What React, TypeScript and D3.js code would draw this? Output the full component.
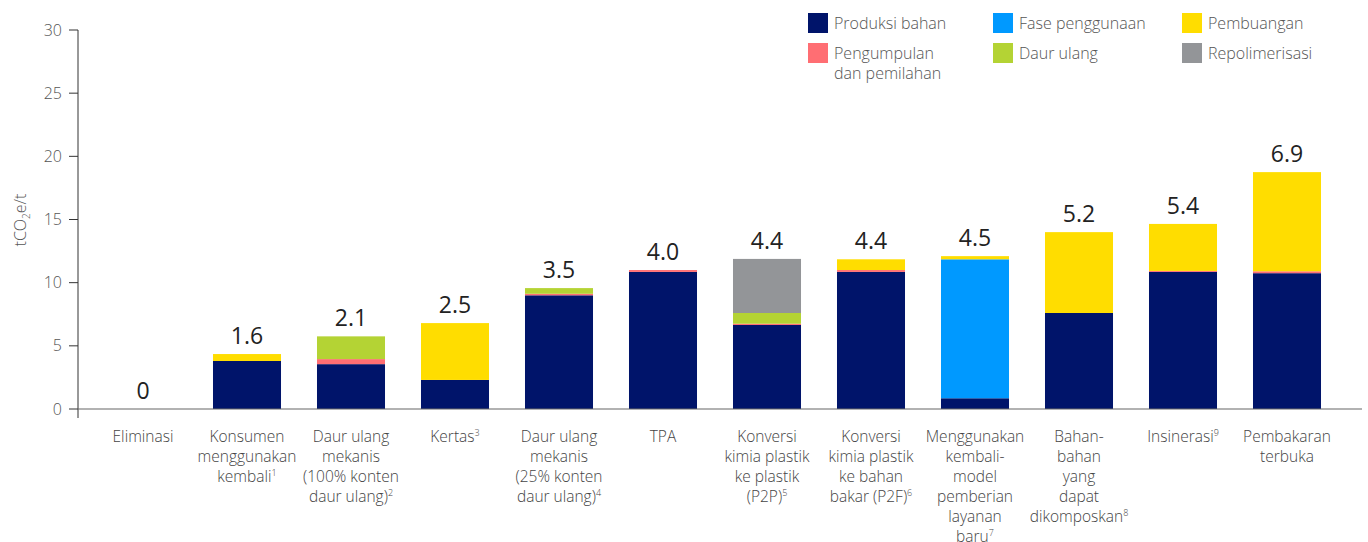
import React from "react";
import * as d3 from "d3";

const categories = [
  "Eliminasi",
  "Konsumen menggunakan kembali",
  "Daur ulang mekanis (100% konten daur ulang)",
  "Kertas",
  "Daur ulang mekanis (25% konten daur ulang)",
  "TPA",
  "Konversi kimia plastik ke plastik (P2P)",
  "Konversi kimia plastik ke bahan bakar (P2F)",
  "Menggunakan kembali-model pemberian layanan baru",
  "Bahan-bahan yang dapat dikomposkan",
  "Insinerasi",
  "Pembakaran terbuka",
];

const labelLines: string[][] = [
  ["Eliminasi"],
  ["Konsumen", "menggunakan", "kembali"],
  ["Daur ulang", "mekanis", "(100% konten", "daur ulang)"],
  ["Kertas"],
  ["Daur ulang", "mekanis", "(25% konten", "daur ulang)"],
  ["TPA"],
  ["Konversi", "kimia plastik", "ke plastik", "(P2P)"],
  ["Konversi", "kimia plastik", "ke bahan", "bakar (P2F)"],
  ["Menggunakan", "kembali-", "model", "pemberian", "layanan", "baru"],
  ["Bahan-", "bahan", "yang", "dapat", "dikomposkan"],
  ["Insinerasi"],
  ["Pembakaran", "terbuka"],
];

const footnotes = ["", "1", "2", "3", "4", "", "5", "6", "7", "8", "9", ""];

const totalLabels = ["0", "1.6", "2.1", "2.5", "3.5", "4.0", "4.4", "4.4", "4.5", "5.2", "5.4", "6.9"];

const seriesKeys = ["produksi", "fase", "pengumpulan", "daur", "repolimerisasi", "pembuangan"];
const seriesNames = ["Produksi bahan", "Fase penggunaan", "Pengumpulan|dan pemilahan", "Daur ulang", "Repolimerisasi", "Pembuangan"];
const seriesColors = ["#00146A", "#0099FF", "#FF6E73", "#B4D334", "#939598", "#FFDD00"];

const produksi = [0, 3.8, 3.55, 2.3, 9.0, 10.85, 6.65, 10.85, 0.85, 7.6, 10.85, 10.75];
const fase = [0, 0, 0, 0, 0, 0, 0, 0, 11.0, 0, 0, 0];
const pengumpulan = [0, 0, 0.4, 0, 0.12, 0.15, 0.1, 0.15, 0, 0, 0.08, 0.15];
const daur = [0, 0, 1.8, 0, 0.45, 0, 0.85, 0, 0, 0, 0, 0];
const repolimerisasi = [0, 0, 0, 0, 0, 0, 4.28, 0, 0, 0, 0, 0];
const pembuangan = [0, 0.55, 0, 4.5, 0, 0, 0, 0.85, 0.25, 6.4, 3.72, 7.85];

const yTicks = [0, 5, 10, 15, 20, 25, 30];

// legend layout order (row-major, 3 columns)
const legendOrder = ["produksi", "fase", "pembuangan", "pengumpulan", "daur", "repolimerisasi"];

const FONT = "'Open Sans', Lato, sans-serif";

export default function App() {
  const W = 1368;
  const H = 542;
  const seriesArrays: Record<string, number[]> = { produksi, fase, pengumpulan, daur, repolimerisasi, pembuangan };
  const rows = categories.map((c, i) => {
    const r: any = { cat: c };
    seriesKeys.forEach((k) => (r[k] = seriesArrays[k][i]));
    return r;
  });
  const stacked = d3.stack<any>().keys(seriesKeys)(rows);

  const x = d3.scaleBand<string>().domain(categories).range([91, 1339]).paddingInner(0.346).paddingOuter(0.173);
  const y = d3.scaleLinear().domain([0, 30]).range([409, 30]);
  const axisX = 78;

  return (
    <svg width={W} height={H} style={{ position: "absolute", left: 0, top: 0, background: "#fff" }} fontFamily={FONT}>
      {/* bars */}
      {stacked.map((s, si) => (
        <g key={s.key} fill={seriesColors[si]}>
          {s.map((d, i) =>
            d[1] - d[0] > 0 ? (
              <rect key={i} x={x(categories[i])} width={x.bandwidth()} y={y(d[1])} height={y(d[0]) - y(d[1])} />
            ) : null
          )}
        </g>
      ))}
      {/* axes */}
      <line x1={axisX} x2={axisX} y1={30} y2={418} stroke="#333" strokeWidth={1} />
      <line x1={axisX} x2={1362} y1={y(0)} y2={y(0)} stroke="#666" strokeWidth={1.2} />
      {yTicks.map((t) => (
        <g key={t}>
          <line x1={axisX - 9} x2={axisX} y1={y(t)} y2={y(t)} stroke="#333" strokeWidth={1} />
          <text x={62} y={y(t)} dy="0.35em" textAnchor="end" fontSize={16} fill="#555" fontWeight={300}>
            {t}
          </text>
        </g>
      ))}
      <text transform={`translate(26, 220) rotate(-90)`} textAnchor="middle" fontSize={16} fill="#555" fontWeight={300}>
        tCO<tspan fontSize={10} dy={4}>2</tspan>
        <tspan dy={-4}>e/t</tspan>
      </text>
      {/* total labels */}
      {categories.map((c, i) => {
        const top = stacked[stacked.length - 1][i][1];
        return (
          <text key={c} x={x(c)! + x.bandwidth() / 2} y={y(top) - 10} textAnchor="middle" fontSize={23} fill="#222" fontWeight={500}>
            {totalLabels[i]}
          </text>
        );
      })}
      {/* category labels */}
      {categories.map((c, i) => (
        <text key={c} x={x(c)! + x.bandwidth() / 2} textAnchor="middle" fontSize={15.5} fill="#444" fontWeight={300}>
          {labelLines[i].map((ln, li) => (
            <tspan key={li} x={x(c)! + x.bandwidth() / 2} y={442 + li * 20}>
              {ln}
              {li === labelLines[i].length - 1 && footnotes[i] ? (
                <tspan fontSize={9} dy={-6}>
                  {footnotes[i]}
                </tspan>
              ) : null}
            </tspan>
          ))}
        </text>
      ))}
      {/* legend */}
      {legendOrder.map((k, li) => {
        const si = seriesKeys.indexOf(k);
        const col = li % 3;
        const row = Math.floor(li / 3);
        const lx = [808, 993, 1182][col];
        const ly = 13 + row * 30;
        const parts = seriesNames[si].split("|");
        return (
          <g key={k}>
            <rect x={lx} y={ly} width={20} height={20} fill={seriesColors[si]} />
            <text fontSize={16} fill="#555" fontWeight={300}>
              {parts.map((p, pi) => (
                <tspan key={pi} x={lx + 26} y={ly + 16 + pi * 20}>
                  {p}
                </tspan>
              ))}
            </text>
          </g>
        );
      })}
    </svg>
  );
}
